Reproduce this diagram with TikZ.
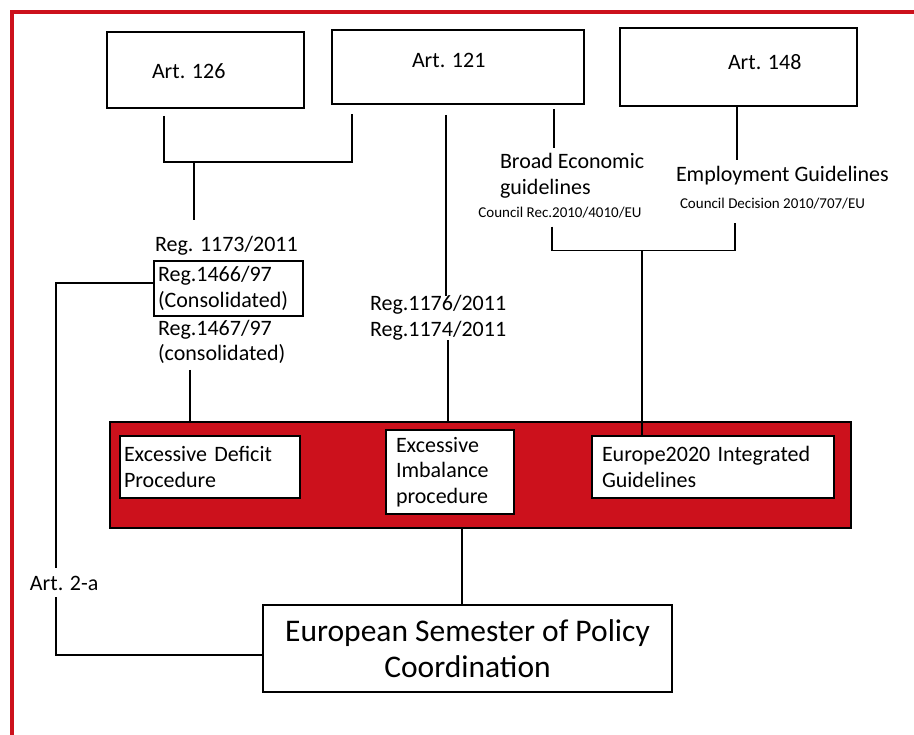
\documentclass[tikz,border=0pt]{standalone}
\usepackage{fontspec}
\setmainfont{Carlito}
\usetikzlibrary{positioning,calc}
\definecolor{eured}{RGB}{204,17,28}
\tikzset{
  every node/.style={font=\fontsize{22}{25.5}\selectfont, inner sep=0pt, outer sep=0pt},
  artbox/.style={draw, line width=1.5pt, anchor=north west},
  regbox/.style={draw, line width=1.5pt, fill=white, anchor=north west, align=left},
  txt/.style={anchor=west, align=left},
  small/.style={font=\fontsize{15}{17}\selectfont},
  link/.style={line width=1.3pt}
}

\begin{document}
\begin{tikzpicture}[x=1pt, y=-1pt]
    \useasboundingbox (0,0) rectangle (914,735);
    \clip (0,0) rectangle (914,735);
    % red frame
    \draw[eured, line width=4] (12,760) -- (12,12) -- (930,12);
    % articles
    \node[artbox, minimum width=197, minimum height=76] (art126) at (107,32) {};
    \node[artbox, minimum width=252, minimum height=74] (art121) at (332,30) {};
    \node[artbox, minimum width=237, minimum height=78] (art148) at (620,28) {};
    \node[txt] (art126txt) at (152,71) {Art. 126};
    \node[txt] (art121txt) at (412,60) {Art. 121};
    \node[txt] (art148txt) at (728,62) {Art. 148};
    % regulations and guidelines
    \node[txt] (reg1173) at (155,246) {Reg. 1173/2011};
    \node[regbox, text width=141, inner xsep=4, minimum height=55] (reg1466) at (154,261) {Reg.1466/97\\(Consolidated)};
    \node[txt] (reg1467) at (158,342) {Reg.1467/97\\(consolidated)};
    \node[txt] (reg1176) at (370,318) {Reg.1176/2011\\Reg.1174/2011};
    \node[txt] (beg) at (500,176) {Broad Economic\\guidelines};
    \node[small] (begrec) at (560,213) {Council Rec.2010/4010/EU};
    \node[txt] (empl) at (676,176) {Employment Guidelines};
    \node[txt, small] (emplrec) at (680,204) {Council Decision 2010/707/EU};
    % procedures
    \node[draw, line width=1.5pt, fill=eured, anchor=north west, minimum width=741, minimum height=106] (red) at (110,422) {};
    \node[regbox, text width=172, inner xsep=4, minimum height=62] (edp) at (120,436) {Excessive Deficit\\Procedure};
    \node[regbox, text width=108, inner xsep=10, minimum height=84] (eip) at (386,430) {Excessive\\Imbalance\\procedure};
    \node[regbox, text width=222, inner xsep=10, minimum height=62] (eig) at (592,436) {Europe2020 Integrated\\Guidelines};
    % semester
    \node[artbox, minimum width=409, minimum height=87, align=center, font=\fontsize{31.5}{36}\selectfont] (semester) at (263,605) {European Semester of Policy\\Coordination};
    \node[txt] (art2a) at (30,583) {Art. 2-a};
    % connectors
    \coordinate (a126) at ($(art126.south)+(-41.5,8)$);
    \coordinate (a121) at ($(art121.south)+(-106,10)$);
    \coordinate (j126) at ($(art126.south)+(-11.5,54)$);
    \draw[link] (a126) |- (j126) -| (a121);
    \draw[link] (j126) -- ($(j126 |- reg1173.north)+(0,-16)$);
    \coordinate (b121) at ($(art121.south)+(-12,11)$);
    \draw[link] (b121) -- (b121 |- reg1176.north);
    \coordinate (c121) at ($(art121.south)+(96,5)$);
    \draw[link] (c121) -- ($(c121 |- beg.north)+(0,-6)$);
    \coordinate (a148) at ($(art148.south)+(-1.5,0)$);
    \draw[link] (a148) -- ($(a148 |- empl.north)+(0,-7)$);
    \coordinate (jbe) at ($(begrec.south)+(82,32)$);
    \coordinate (bbeg) at ($(begrec.south)+(-8,8)$);
    \coordinate (bemp) at ($(emplrec.south west)+(55,13)$);
    \draw[link] (bbeg) |- (jbe) -| (bemp);
    \draw[link] (jbe) -- (jbe |- eig.north);
    \coordinate (b1467) at ($(reg1467.south west)+(32,6)$);
    \draw[link] (b1467) -- (b1467 |- red.north);
    \coordinate (b1176) at ($(reg1176.south west)+(78,0)$);
    \draw[link] (b1176) -- (b1176 |- red.north);
    \coordinate (bred) at ($(red.south west)+(352,0)$);
    \draw[link] (bred) -- (bred |- semester.north);
    \coordinate (t2a) at ($(art2a.north west)+(26,-8)$);
    \draw[link] ($(reg1466.west)+(0,-5.5)$) -| (t2a);
    \draw[link] ($(art2a.south west)+(26,7)$) |- ($(semester.west)+(0,6.5)$);
\end{tikzpicture}
\end{document}
